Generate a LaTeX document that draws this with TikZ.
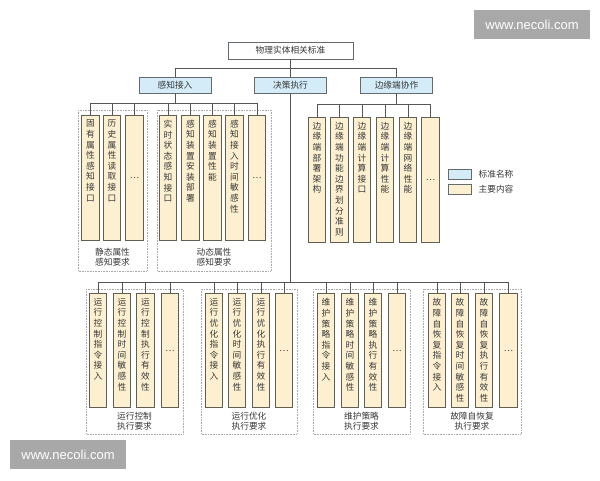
\documentclass[tikz,border=0pt]{standalone}
\usepackage{fontspec}
\setmainfont{Noto Sans CJK SC}
\newfontfamily\wmfont{Liberation Sans}
\usepackage{xcolor}
\usetikzlibrary{positioning}

\definecolor{stdblue}{RGB}{211,236,248}
\definecolor{itemyellow}{RGB}{252,240,208}
\definecolor{boxgray}{RGB}{100,106,110}
\definecolor{itemgray}{RGB}{96,96,82}
\definecolor{linegray}{RGB}{85,85,85}
\definecolor{grpgray}{RGB}{170,170,170}
\definecolor{txtgray}{RGB}{55,55,55}
\definecolor{wmgray}{RGB}{168,168,168}

% one character per line, from the top of the column
\def\vtextloop#1{\ifx\relax#1\else#1\par\expandafter\vtextloop\fi}
\newcommand{\vtext}[2]{\parbox[c][#1pt][t]{12pt}{\centering\vtextloop#2\relax}}

\tikzset{
    txt/.style={text=txtgray,font=\fontsize{8.7}{10.6}\selectfont},
    line/.style={draw=linegray,line width=0.8pt},
    title/.style={txt,draw=boxgray,fill=white,line width=0.8pt,minimum width=125pt,minimum height=17pt,inner sep=0pt},
    std/.style={txt,draw=boxgray,fill=stdblue,line width=0.9pt,minimum width=72pt,minimum height=16pt,inner sep=0pt},
    item/.style={txt,draw=itemgray,fill=itemyellow,line width=1.1pt,minimum width=17.5pt,inner sep=0pt,anchor=north},
    itemup/.style={item,minimum height=125pt},
    itemlow/.style={item,minimum height=114pt},
    grp/.style={draw=grpgray,densely dotted,line width=0.6pt},
    grplabel/.style={txt,align=center,inner sep=0pt},
    keybox/.style={draw=boxgray,line width=0.8pt,minimum width=23pt,minimum height=10pt,inner sep=0pt},
    keytext/.style={txt,inner sep=0pt,anchor=west},
    wmark/.style={fill=wmgray,text=white,font=\wmfont\fontsize{13}{13}\selectfont,minimum width=116pt,minimum height=29pt,inner sep=0pt}
}

\begin{document}
\begin{tikzpicture}[x=1pt,y=-1pt]
    \useasboundingbox (0,0) rectangle (600,480);

    \node[title] (root) at (290.5,50.5) {物理实体相关标准};
    \node[std] (sense) at (175,85) {感知接入};
    \node[std] (dec) at (290.5,85) {决策执行};
    \node[std] (edge) at (396.5,85) {边缘端协作};

    % upper columns
    \node[itemup] (a1) at (90.5,115) {\vtext{116}{固有属性感知接口}};
    \node[itemup] (a2) at (112,115) {\vtext{116}{历史属性读取接口}};
    \node[itemup] (a3) at (134.5,115) {…};
    \node[itemup] (b1) at (168,115) {\vtext{116}{实时状态感知接口}};
    \node[itemup] (b2) at (190.5,115) {\vtext{116}{感知装置安装部署}};
    \node[itemup] (b3) at (212.5,115) {\vtext{116}{感知装置性能}};
    \node[itemup] (b4) at (234.5,115) {\vtext{116}{感知接入时间敏感性}};
    \node[itemup] (b5) at (257,115) {…};

    \node[itemup] (e1) at (317,117) {\vtext{116}{边缘端部署架构}};
    \node[itemup] (e2) at (339.5,117) {\vtext{116}{边缘端功能边界划分准则}};
    \node[itemup] (e3) at (362,117) {\vtext{116}{边缘端计算接口}};
    \node[itemup] (e4) at (385,117) {\vtext{116}{边缘端计算性能}};
    \node[itemup] (e5) at (408,117) {\vtext{116}{边缘端网络性能}};
    \node[itemup] (e6) at (430.5,117) {…};

    % lower columns
    \node[itemlow] (p1) at (98,293) {\vtext{104}{运行控制指令接入}};
    \node[itemlow] (p2) at (122,293) {\vtext{104}{运行控制时间敏感性}};
    \node[itemlow] (p3) at (145.5,293) {\vtext{104}{运行控制执行有效性}};
    \node[itemlow] (p4) at (170,293) {…};
    \node[itemlow] (q1) at (214,293) {\vtext{104}{运行优化指令接入}};
    \node[itemlow] (q2) at (237,293) {\vtext{104}{运行优化时间敏感性}};
    \node[itemlow] (q3) at (261,293) {\vtext{104}{运行优化执行有效性}};
    \node[itemlow] (q4) at (284,293) {…};
    \node[itemlow] (r1) at (326,293) {\vtext{104}{维护策略指令接入}};
    \node[itemlow] (r2) at (350,293) {\vtext{104}{维护策略时间敏感性}};
    \node[itemlow] (r3) at (373,293) {\vtext{104}{维护策略执行有效性}};
    \node[itemlow] (r4) at (397,293) {…};
    \node[itemlow] (s1) at (437,293) {\vtext{104}{故障自恢复指令接入}};
    \node[itemlow] (s2) at (460,293) {\vtext{104}{故障自恢复时间敏感性}};
    \node[itemlow] (s3) at (484,293) {\vtext{104}{故障自恢复执行有效性}};
    \node[itemlow] (s4) at (508.5,293) {…};

    % groups
    \draw[grp] (78,110) rectangle (147,271);
    \draw[grp] (157,110) rectangle (271,271);
    \draw[grp] (86,289) rectangle (183,434);
    \draw[grp] (201,289) rectangle (297,434);
    \draw[grp] (313,289) rectangle (410,434);
    \draw[grp] (423,289) rectangle (521,434);
    \node[grplabel] (la) at (112.5,257) {静态属性\\感知要求};
    \node[grplabel] (lb) at (214,257) {动态属性\\感知要求};
    \node[grplabel] (lp) at (134.5,421) {运行控制\\执行要求};
    \node[grplabel] (lq) at (249,421) {运行优化\\执行要求};
    \node[grplabel] (lr) at (361.5,421) {维护策略\\执行要求};
    \node[grplabel] (ls) at (472,421) {故障自恢复\\执行要求};

    % tree lines
    \draw[line] (root.south) -- (dec.north);
    \draw[line] (root.south) -- ++(0,9) -| (sense.north);
    \draw[line] (root.south) -- ++(0,9) -| (edge.north);
    \foreach \c in {a1,a2,a3,b1,b2,b3,b4,b5}
        \draw[line] (sense.south) -- ++(0,10) -| (\c.north);
    \foreach \c in {e1,e2,e3,e4,e5,e6}
        \draw[line] (edge.south) -- ++(0,11) -| (\c.north);
    \foreach \c in {p1,p2,p3,p4,q1,q2,q3,q4,r1,r2,r3,r4,s1,s2,s3,s4}
        \draw[line] (dec.south) -- ++(0,189) -| (\c.north);

    % legend
    \node[keybox,fill=stdblue] (kstd) at (459.5,174) {};
    \node[keytext,right=7pt of kstd] (tstd) {标准名称};
    \node[keybox,fill=itemyellow] (kitem) at (459.5,189) {};
    \node[keytext,right=7pt of kitem] (titem) {主要内容};

    \node[wmark] (wm1) at (532,24.5) {www.necoli.com};
    \node[wmark] (wm2) at (68,454.5) {www.necoli.com};
\end{tikzpicture}
\end{document}
